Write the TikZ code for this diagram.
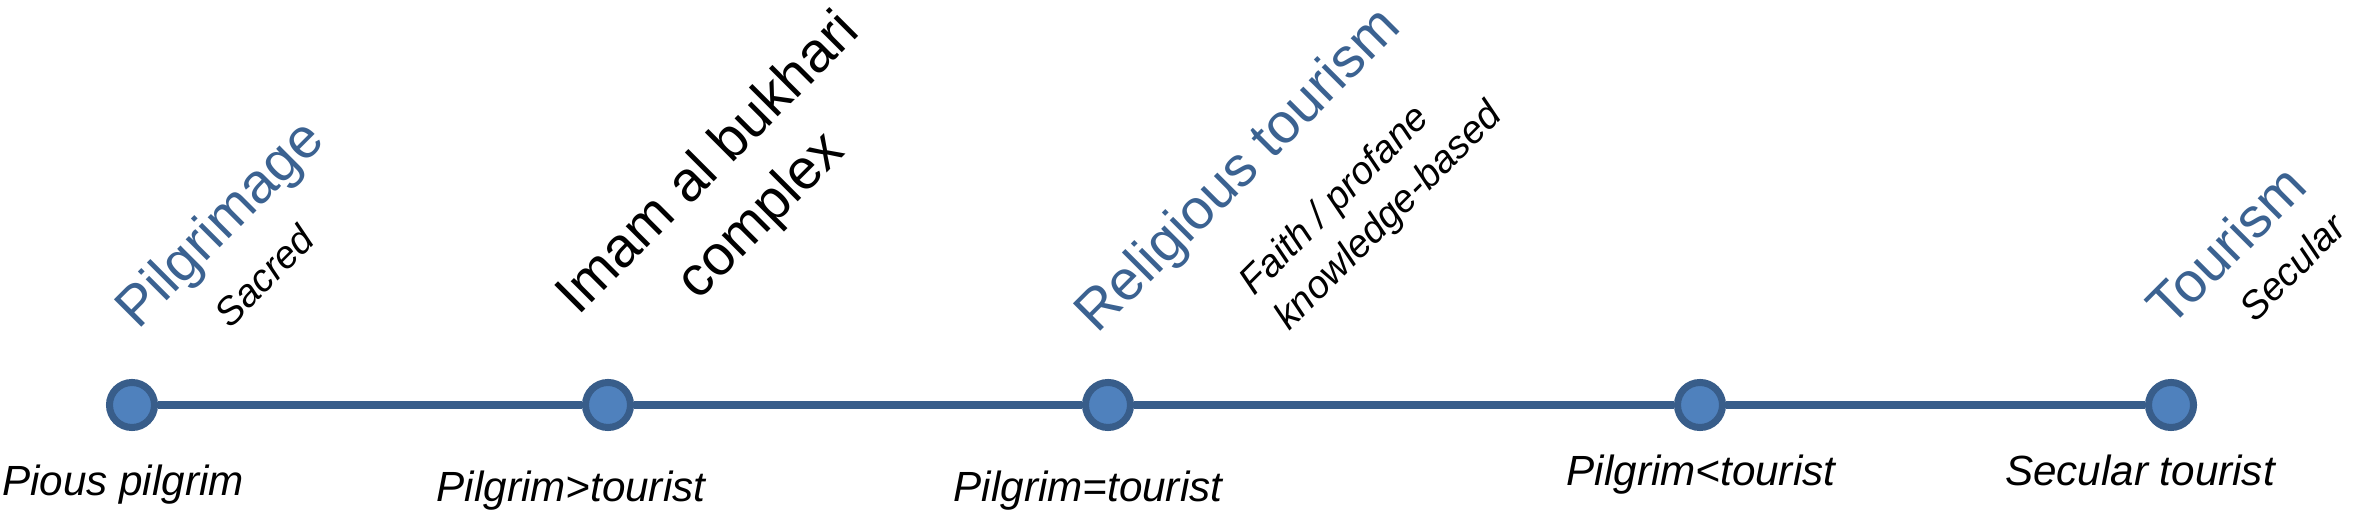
\documentclass[tikz,border=0pt]{standalone}
\usepackage{fontspec}
\setmainfont{Liberation Sans}
\usetikzlibrary{positioning}
\definecolor{lineblue}{RGB}{56,93,138}
\definecolor{dotblue}{RGB}{79,129,189}
\definecolor{titleblue}{RGB}{59,98,145}

\begin{document}
\begin{tikzpicture}[x=0.01cm,y=-0.01cm,
  milestone/.style={circle,draw=lineblue,fill=dotblue,line width=2pt,minimum size=0.45cm,inner sep=0pt},
  track/.style={color=lineblue,line width=2.2pt},
  stage/.style={rotate=45,inner sep=0pt,text=titleblue,font=\fontsize{16}{21}\selectfont},
  note/.style={rotate=45,inner sep=0pt,align=left,font=\fontsize{11}{14}\selectfont\itshape},
  visitor/.style={anchor=base,inner sep=0pt,font=\fontsize{12}{14}\selectfont\itshape}]
\useasboundingbox (0,0) rectangle (2364,513);
% the five points of the scale
\node[milestone] (m1) at (132,405) {};
\node[milestone] (m2) at (608,405) {};
\node[milestone] (m3) at (1108,405) {};
\node[milestone] (m4) at (1700,405) {};
\node[milestone] (m5) at (2171,405) {};
\path[track]
(m1) edge (m2) (m2) edge (m3)
(m3) edge (m4) (m4) edge (m5)
;
% kinds of visitor
\node[visitor] (v1) at (123,496) {Pious pilgrim};
\node[visitor] (v2) at (571,502) {Pilgrim>tourist};
\node[visitor] (v3) at (1088,502) {Pilgrim=tourist};
\node[visitor] (v4) at (1701,486) {Pilgrim<tourist};
\node[visitor] (v5) at (2140,486) {Secular tourist};
% slanted headings
\node[stage] (s1) at (222,226) {Pilgrimage};
\node[note] (n1) at (264,276) {Sacred};
\node[stage,text=black,align=center] (site) at (736,191) {Imam al bukhari\\complex};
\node[stage] (s2) at (1240,172) {Religious tourism};
\node[note] (n2) at (1372,200) {Faith / profane\\knowledge-based};
\node[stage] (s3) at (2226,245) {Tourism};
\node[note] (n3) at (2292,267) {Secular};
\end{tikzpicture}
\end{document}
